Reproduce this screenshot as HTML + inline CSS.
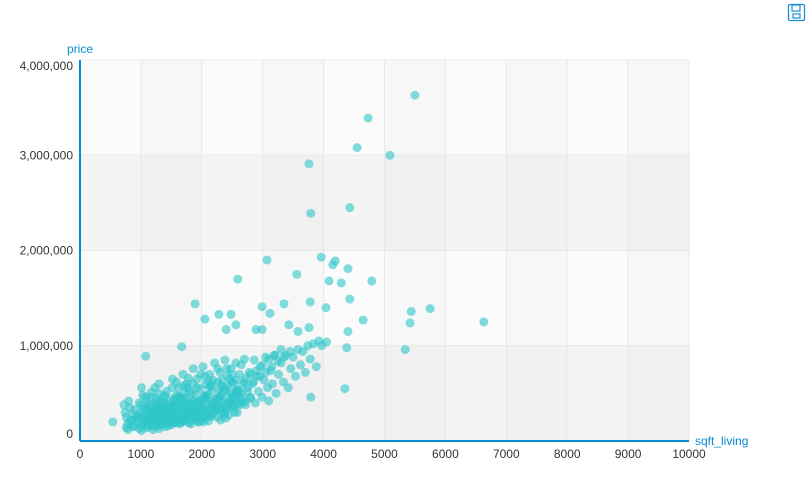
<!DOCTYPE html>
<html><head><meta charset="utf-8"><style>
body{margin:0;background:#fff;font-family:"Liberation Sans",sans-serif;}
svg{display:block}
</style></head><body>
<svg id="chart" width="809" height="500">
<g id="bg"></g>
<g id="grid"></g>
<g id="pts"></g>
<g id="axes"></g>
<g transform="translate(788,4)">
<rect x="0.5" y="0.5" width="16" height="16" rx="1.5" fill="none" stroke="#1a8fd1" stroke-width="1.3"/>
<rect x="4" y="1" width="8" height="6" fill="none" stroke="#1a8fd1" stroke-width="1.2"/>
<rect x="5" y="10" width="7" height="4" fill="none" stroke="#1a8fd1" stroke-width="1.2"/>
</g>
</svg>
<script>
const sqft=[5500,4730,4550,5090,3760,4430,3790,3070,3960,4190,4150,4400,3560,2590,4090,4290,4790,3780,4430,1890,3350,2990,4040,5440,5750,2280,2480,3120,2050,4650,6630,5420,2560,3430,2890,2990,3580,3760,4400,2400,5340,4380,4350,3790,1080,1670,540,
720,740,760,780,790,800,820,850,870,880,900,920,950,970,980,990,
1010,1030,1050,1060,1080,1100,1120,1140,1150,1170,1180,1200,1210,1230,1250,1260,1280,1300,1310,1330,1350,1370,1380,1400,1420,1440,1450,1470,1490,
1500,1520,1530,1550,1570,1580,1600,1620,1640,1650,1670,1690,1700,1720,1740,1750,1770,1790,1800,1820,1840,1860,1870,1890,1900,1920,1940,1950,1970,1990,
2000,2020,2040,2060,2080,2100,2110,2130,2150,2170,2190,2210,2230,2250,2270,2290,2300,2320,2340,2360,2380,2400,2420,2440,2460,2480,2500,2520,2540,2560,2580,
2600,2620,2650,2680,2700,2720,2750,2780,2800,2830,2860,2880,2900,2930,2960,2990,3020,3050,3080,3100,3130,3160,3190,3220,3260,3300,3340,3380,3420,3460,3500,3540,3580,3620,3660,3700,3740,3780,3830,3880,3920,3970,4050,
1050,1120,1190,1260,1330,1400,1460,1530,1600,1660,1730,1800,1870,1930,2000,2070,2140,2220,2280,2350,2420,2490,2560,2630,1150,1240,1310,1360,1430,1480,1560,1620,1690,1760,1820,1880,1960,2030,2090,2160,2240,2310,2380,2450,1000,960,1080,1160,1230,1290,1380,1510,1580,1700,1780,1850,1980,2050,2180,2260,2330,2410,2500,2570,2650,2720,1700,1640,1760,1840,1910,1990,2060,2120,1180,1270,1350,1440,1520,1570,1650,1720,
1020,1070,1110,1170,1220,1270,1320,1370,1420,1470,1520,1570,1620,1670,1720,1770,1820,1870,1920,1970,2020,2070,2120,2170,2220,2270,2320,2370,2420,2470,2520,2570,
1040,1090,1140,1190,1240,1290,1340,1390,1440,1490,1540,1590,1640,1690,1740,1790,1840,1890,1940,1990,2040,2090,2140,2190,2240,2290,2340,2390,2440,2490,2540,2590,
1060,1130,1200,1270,1340,1410,1480,1550,1620,1690,1760,1830,1900,1970,2040,2110,2180,2250,2320,2390,2460,2530,2600,2670,
760,820,880,940,1000,1010,1100,1200,1300,1400,1500,1600,1700,1800,1900,2000,2100,2200,2300,2400,2500,2600,2700,2800,
2650,2750,2850,2950,3050,3150,3250,3350,3450,2700,2800,2900,3000,3100,3200,3300];
const priceK=[3630,3390,3080,3000,2910,2450,2390,1900,1930,1890,1850,1810,1750,1700,1680,1660,1680,1460,1490,1440,1440,1410,1400,1360,1390,1330,1330,1340,1280,1270,1250,1240,1220,1220,1170,1170,1150,1190,1150,1170,960,980,550,460,890,990,200,
380,300,250,180,120,420,350,210,280,150,330,240,190,400,130,300,
560,480,220,350,170,420,270,310,190,510,380,240,150,330,450,200,280,600,360,170,250,410,300,210,520,340,160,270,440,
230,650,370,190,300,480,250,560,180,400,320,700,220,450,280,600,350,190,520,260,410,760,310,230,480,650,370,200,550,290,
420,780,250,600,340,480,210,700,380,530,290,820,450,250,620,360,720,480,300,560,850,400,680,270,520,760,350,610,440,820,300,
540,700,420,600,860,380,520,720,450,600,850,400,680,520,780,460,640,880,560,420,740,600,900,500,700,820,620,900,560,760,880,680,960,800,940,720,1000,860,1020,780,1050,1000,1040,
300,380,320,380,320,380,300,420,340,460,380,330,420,300,360,300,420,330,540,420,350,450,520,380,260,170,260,180,240,350,230,400,260,440,180,360,420,200,390,260,380,220,300,480,380,260,460,460,560,500,460,560,620,580,660,600,700,680,640,760,640,760,700,640,800,660,330,280,230,300,260,220,470,560,220,320,340,290,320,380,220,400,
250,200,340,280,200,420,310,230,360,190,270,440,330,200,510,250,380,290,560,420,320,470,260,600,350,430,500,280,580,400,460,540,
180,330,230,300,380,160,220,480,270,380,200,290,450,350,240,300,500,390,200,340,450,280,580,400,320,460,360,540,400,620,300,480,
210,160,290,240,420,300,200,360,470,210,560,380,250,300,480,630,350,440,580,240,650,380,520,450,
140,220,160,260,170,110,140,120,130,150,170,190,210,230,250,270,290,310,330,350,370,390,410,460,
500,560,620,680,720,780,840,880,940,620,700,740,800,860,900,960];
const xTicks=[0,1000,2000,3000,4000,5000,6000,7000,8000,9000,10000];
const yTicks=[0,1000000,2000000,3000000,4000000];
const yTickLabels=["0","1,000,000","2,000,000","3,000,000","4,000,000"];

const X0=80,X1=689,Y0=441,Y1=60;
const xs=v=>X0+(v/10000)*(X1-X0);
const ys=v=>Y0-(v/4000000)*(Y0-Y1);
const NS="http://www.w3.org/2000/svg";
function mk(tag,attrs,parent){const e=document.createElementNS(NS,tag);for(const k in attrs)e.setAttribute(k,attrs[k]);parent.appendChild(e);return e;}
const bg=document.getElementById('bg'),grid=document.getElementById('grid'),pts=document.getElementById('pts'),axes=document.getElementById('axes');
for(let i=0;i<yTicks.length-1;i++){
  const r=mk('rect',{x:X0,y:ys(yTicks[i+1]),width:X1-X0,height:ys(yTicks[i])-ys(yTicks[i+1]),fill:i%2===0?'#f4f4f4':'#fbfbfb'},bg);
  
  
}
for(let i=0;i<xTicks.length-1;i++){
  if(i%2===1){const r=mk('rect',{x:xs(xTicks[i]),y:Y1,width:xs(xTicks[i+1])-xs(xTicks[i]),height:Y0-Y1,fill:'rgba(0,0,0,0.015)'},bg);
  
  }
}
xTicks.forEach((t,i)=>{
  if(i>0){const l=mk('line',{x1:xs(t),x2:xs(t),y1:Y1,y2:Y0,stroke:'#e8e8e8'},grid);
  
  }
  const tx=mk('text',{x:xs(t),y:458,'text-anchor':'middle','font-size':12,fill:'#333'},axes);
  tx.textContent=t;
  
  
});
yTicks.forEach((t,i)=>{
  if(i>0){const l=mk('line',{x1:X0,x2:X1,y1:ys(t),y2:ys(t),stroke:'#e8e8e8'},grid);
  
  }
  const off=i===0?-3:(i===yTicks.length-1?10:4);
  const tx=mk('text',{x:73,y:ys(t)+off,'text-anchor':'end','font-size':12,fill:'#333'},axes);
  tx.textContent=yTickLabels[i];
  
  
});
sqft.forEach((v,i)=>{
  const c=mk('circle',{cx:xs(v),cy:ys(priceK[i]*1000),r:4.5,fill:'#2ec7c9','fill-opacity':0.6},pts);
  
  
});
const ax=mk('line',{x1:X0,x2:X1,y1:Y0,y2:Y0,stroke:'#0a8bd1','stroke-width':2},axes);


const ay=mk('line',{x1:X0,x2:X0,y1:Y1,y2:Y0,stroke:'#0a8bd1','stroke-width':2},axes);


const xn=mk('text',{x:695,y:445,'font-size':12,fill:'#0a8bd1'},axes);xn.textContent='sqft_living';


const yn=mk('text',{x:67,y:53,'font-size':12,fill:'#0a8bd1'},axes);yn.textContent='price';


</script>
</body></html>
